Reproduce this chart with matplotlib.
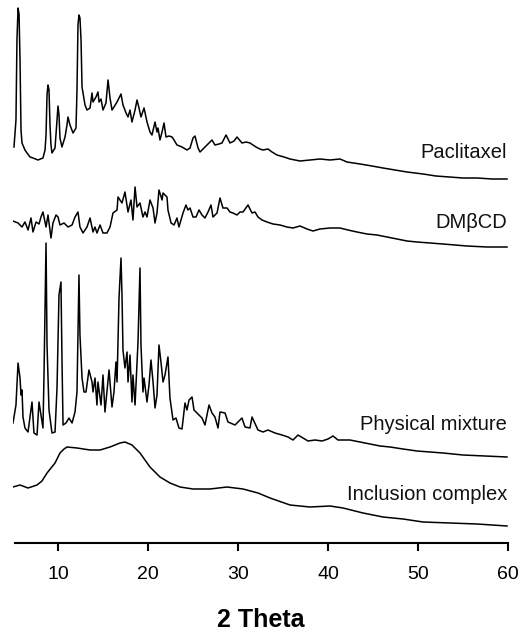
"""
XRD patterns: paclitaxel, DMβCD, physical mixture, inclusion complex
"""

import matplotlib
matplotlib.use('Agg')
import matplotlib.pyplot as plt

plt.rcParams.update({
    'font.family': ['Liberation Sans', 'DejaVu Sans'],
})

# ── data (2θ in degrees, intensity in arbitrary units) ──────────────
pac_theta = [5.11, 5.33, 5.44, 5.56, 5.67, 5.78, 5.89, 6.0, 6.33, 6.56,
             6.89, 7.22, 7.78, 8.33, 8.56, 8.67, 8.78, 8.89, 9.0, 9.11,
             9.22, 9.33, 9.67, 9.89, 10.0, 10.11, 10.22, 10.44, 10.78, 11.0,
             11.11, 11.33, 11.67, 12.0, 12.11, 12.22, 12.33, 12.44, 12.56, 12.67,
             13.0, 13.22, 13.56, 13.78, 13.89, 14.22, 14.44, 14.56, 14.78, 15.0,
             15.33, 15.56, 15.78, 16.0, 16.22, 16.56, 16.78, 17.0, 17.22, 17.56,
             17.78, 18.0, 18.22, 18.56, 18.78, 19.0, 19.22, 19.56, 19.89, 20.22,
             20.44, 20.78, 21.0, 21.11, 21.33, 21.56, 21.78, 22.0, 22.33, 22.67,
             22.89, 23.22, 23.78, 24.33, 24.67, 25.0, 25.22, 25.56, 25.78, 26.33,
             26.78, 27.11, 27.44, 27.89, 28.22, 28.67, 29.11, 29.56, 29.89, 30.44,
             30.89, 31.33, 32.0, 32.44, 32.78, 33.33, 33.78, 34.33, 35.11, 35.78,
             36.89, 38.0, 39.11, 40.22, 41.33, 42.11, 43.56, 44.89, 46.11, 47.44,
             48.78, 50.56, 52.0, 53.56, 55.0, 56.56, 58.22, 59.89]
pac_int = [36, 63, 143, 175, 169, 123, 53, 40, 33, 30,
           26, 25, 23, 25, 33, 48, 88, 98, 93, 58,
           38, 30, 35, 63, 77, 68, 45, 36, 46, 58,
           66, 58, 50, 55, 93, 158, 168, 165, 143, 96,
           78, 73, 75, 90, 81, 86, 91, 81, 84, 73,
           80, 103, 85, 73, 76, 81, 85, 89, 78, 70,
           66, 73, 61, 73, 83, 75, 66, 75, 61, 51,
           48, 61, 51, 55, 43, 51, 60, 46, 47, 46,
           43, 38, 36, 33, 35, 45, 47, 35, 31, 36,
           40, 43, 38, 39, 40, 48, 40, 42, 46, 40,
           41, 40, 36, 34, 33, 34, 31, 28, 26, 24,
           22, 23, 24, 23, 24, 21, 19, 17, 15, 13,
           11, 9, 7, 6, 5, 5, 4, 4]

dm_theta = [5.0, 5.56, 6.0, 6.33, 6.67, 7.0, 7.22, 7.56, 7.89, 8.11,
            8.33, 8.67, 8.89, 9.22, 9.44, 9.78, 10.0, 10.22, 10.67, 11.11,
            11.56, 11.89, 12.22, 12.44, 12.78, 13.22, 13.56, 13.89, 14.11, 14.33,
            14.67, 15.0, 15.44, 15.78, 16.11, 16.56, 16.67, 17.11, 17.44, 17.78,
            18.11, 18.33, 18.56, 18.78, 19.11, 19.44, 19.67, 19.89, 20.22, 20.56,
            20.78, 21.0, 21.22, 21.56, 21.67, 22.11, 22.22, 22.56, 22.89, 23.22,
            23.44, 23.89, 24.22, 24.44, 24.67, 25.0, 25.33, 25.67, 26.0, 26.33,
            26.67, 27.0, 27.22, 27.67, 28.0, 28.33, 28.78, 29.11, 29.44, 29.89,
            30.22, 30.56, 31.11, 31.56, 31.89, 32.22, 32.67, 33.22, 33.89, 34.67,
            35.44, 36.11, 36.89, 37.67, 38.33, 39.11, 40.22, 41.33, 42.22, 43.22,
            44.33, 45.44, 46.56, 47.67, 48.78, 49.89, 51.33, 52.78, 54.11, 55.44,
            57.67, 59.89]
dm_int = [29, 27, 23, 28, 20, 32, 18, 28, 26, 33,
          38, 23, 35, 12, 27, 35, 33, 25, 27, 23,
          25, 33, 38, 23, 17, 23, 32, 18, 23, 17,
          25, 17, 17, 23, 37, 40, 53, 47, 58, 38,
          50, 30, 63, 43, 47, 33, 38, 33, 50, 42,
          27, 37, 60, 50, 57, 53, 40, 27, 25, 32,
          23, 37, 45, 40, 42, 33, 33, 40, 35, 32,
          38, 45, 33, 37, 52, 42, 42, 38, 37, 35,
          38, 38, 45, 37, 38, 33, 30, 28, 26, 25,
          23, 22, 24, 21, 19, 21, 22, 22, 20, 18,
          16, 15, 13, 11, 9, 8, 7, 6, 5, 4,
          3, 3]

pm_theta = [5.0, 5.33, 5.56, 5.78, 5.89, 6.0, 6.11, 6.33, 6.67, 7.11,
            7.33, 7.67, 7.89, 8.11, 8.33, 8.44, 8.67, 8.78, 9.0, 9.33,
            9.67, 9.89, 10.11, 10.33, 10.44, 10.56, 10.89, 11.22, 11.56, 11.89,
            12.11, 12.22, 12.33, 12.44, 12.67, 12.89, 13.11, 13.44, 13.78, 13.89,
            14.11, 14.33, 14.44, 14.78, 15.0, 15.22, 15.44, 15.67, 16.0, 16.22,
            16.44, 16.56, 16.78, 17.0, 17.11, 17.22, 17.44, 17.67, 17.78, 18.0,
            18.22, 18.33, 18.56, 18.78, 18.89, 19.11, 19.22, 19.44, 19.56, 19.89,
            20.11, 20.33, 20.56, 20.78, 21.0, 21.22, 21.44, 21.67, 21.89, 22.22,
            22.44, 22.78, 23.11, 23.44, 23.78, 24.11, 24.33, 24.56, 24.89, 25.11,
            25.44, 26.0, 26.33, 26.78, 27.11, 27.44, 27.78, 28.0, 28.56, 28.89,
            29.67, 30.44, 30.78, 31.33, 31.56, 32.22, 32.78, 33.33, 34.11, 34.89,
            35.56, 36.11, 36.67, 37.22, 37.78, 38.56, 39.33, 40.0, 40.56, 41.11,
            42.44, 43.56, 44.67, 45.78, 46.89, 48.33, 49.89, 51.33, 52.78, 55.0,
            57.44, 59.89]
pm_int = [37, 55, 97, 82, 65, 70, 43, 32, 28, 58,
          27, 25, 58, 45, 32, 82, 217, 115, 50, 27,
          28, 72, 165, 178, 102, 35, 37, 42, 37, 48,
          68, 125, 185, 125, 82, 68, 68, 90, 78, 68,
          82, 55, 78, 55, 85, 48, 68, 90, 53, 68,
          98, 78, 162, 202, 165, 110, 92, 108, 78, 105,
          58, 85, 55, 98, 118, 192, 115, 68, 82, 58,
          75, 100, 78, 52, 65, 115, 98, 78, 85, 103,
          62, 40, 42, 32, 31, 57, 50, 60, 63, 50,
          47, 42, 35, 55, 47, 43, 32, 48, 47, 38,
          35, 42, 33, 32, 43, 30, 28, 30, 27, 25,
          23, 20, 25, 22, 19, 20, 19, 21, 24, 20,
          20, 18, 16, 14, 13, 11, 9, 8, 7, 5,
          4, 3]

ic_theta = [5.0, 5.78, 6.67, 7.67, 8.22, 8.78, 9.67, 10.22, 10.67, 11.0,
            12.11, 13.56, 14.67, 15.78, 16.89, 17.44, 18.22, 19.11, 20.22, 21.33,
            22.44, 23.56, 25.0, 26.89, 28.78, 30.56, 32.22, 33.56, 35.78, 38.0,
            40.22, 41.67, 43.89, 46.11, 48.33, 50.56, 53.56, 56.56, 59.89]
ic_int = [43, 45, 42, 45, 49, 57, 67, 77, 81, 83,
          82, 80, 80, 83, 87, 88, 85, 77, 63, 53,
          47, 43, 41, 41, 43, 41, 37, 32, 25, 23,
          24, 22, 17, 13, 11, 8, 7, 6, 4]

series = [
    ('Paclitaxel', pac_theta, pac_int),
    ('DM\u03b2CD', dm_theta, dm_int),
    ('Physical mixture', pm_theta, pm_int),
    ('Inclusion complex', ic_theta, ic_int),
]

# vertical stacking offsets and label heights above each offset
offsets = [360, 293, 83, 13]
label_dy = [31, 28, 35, 35]

fig = plt.figure(figsize=(5.22, 6.32), dpi=100)
ax = fig.add_axes([13 / 522, 89 / 632, 495 / 522, 538 / 632])

for (name, th, inten), off, dy in zip(series, offsets, label_dy):
    ax.plot(th, [v + off for v in inten], color='black', linewidth=1.1)
    ax.text(59.9, off + dy, name, ha='right', va='center', fontsize=14.5, color='#111111')

ax.set_xlim(5, 60)
ax.set_ylim(0, 538)
for s in ['left', 'right', 'top']:
    ax.spines[s].set_visible(False)
ax.spines['bottom'].set_linewidth(1.5)
ax.spines['bottom'].set_bounds(5.2, 60)
ax.set_yticks([])
ax.set_xticks([10, 20, 30, 40, 50, 60])
ax.tick_params(axis='x', direction='out', length=5.5, width=1.5, pad=11, labelsize=14)
ax.set_xlabel('2 Theta', fontsize=18, fontweight='bold', labelpad=18)

plt.savefig('out.png', dpi=100, facecolor='white')
plt.close(fig)
